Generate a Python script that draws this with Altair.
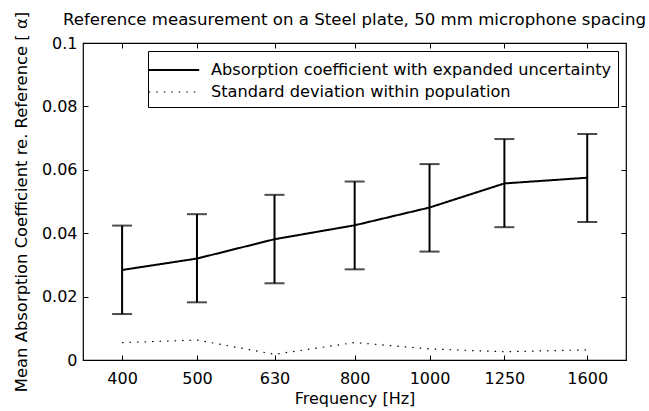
import altair as alt
import pandas as pd

freq = [400, 500, 630, 800, 1000, 1250, 1600]
mean_abs = [0.0284, 0.0320, 0.0381, 0.0425, 0.0481, 0.0557, 0.0575]
lower = [0.0145, 0.0182, 0.0242, 0.0286, 0.0342, 0.0419, 0.0435]
upper = [0.0424, 0.0460, 0.0521, 0.0563, 0.0618, 0.0697, 0.0713]
std_pop = [0.0055, 0.0063, 0.0018, 0.0055, 0.0035, 0.0026, 0.0032]
series_names = ["Absorption coefficient with expanded uncertainty",
                "Standard deviation within population"]
y_ticks = [0, 0.02, 0.04, 0.06, 0.08, 0.1]

FONT = "DejaVu Sans"

lines_df = pd.DataFrame({
    "freq": freq * 2,
    "value": mean_abs + std_pop,
    "series": [series_names[0]] * len(freq) + [series_names[1]] * len(freq),
})
err_df = pd.DataFrame({"freq": freq, "lower": lower, "upper": upper})

xscale = alt.Scale(type="log", domain=[356, 1796], nice=False)
yscale = alt.Scale(domain=[0, 0.1], nice=False, zero=False)

legend = alt.Legend(
    orient="top-right", offset=8, title=None,
    symbolType="M-2.1,0H2.1", symbolSize=576,
    labelFont=FONT, labelFontSize=16.2, labelColor="black",
    labelOffset=24, labelLimit=1000,
    strokeColor="black", fillColor="white", padding=6,
    rowPadding=0, symbolOffset=7,
)

lines = alt.Chart(lines_df).mark_line().encode(
    x=alt.X("freq:Q", scale=xscale,
            axis=alt.Axis(orient="bottom", values=freq, format="d", offset=-5,
                          tickSize=5, domain=False, grid=False,
                          labelPadding=10, title="Frequency [Hz]",
                          titlePadding=4)),
    y=alt.Y("value:Q", scale=yscale,
            axis=alt.Axis(orient="left", values=y_ticks, format="~g", offset=-5,
                          tickSize=5, domain=False, grid=False,
                          labelPadding=6,
                          title="Mean Absorption Coefficient re. Reference [ α]",
                          titleFontSize=16.4, titlePadding=12)),
    color=alt.Color("series:N", scale=alt.Scale(domain=series_names, range=["black", "black"]),
                    legend=legend),
    strokeDash=alt.StrokeDash("series:N", scale=alt.Scale(domain=series_names, range=[[1, 0], [1.5, 6]]),
                              legend=legend),
    strokeWidth=alt.StrokeWidth("series:N", scale=alt.Scale(domain=series_names, range=[2, 1.2]),
                                legend=legend),
)

rules = alt.Chart(err_df).mark_rule(color="black", strokeWidth=2).encode(
    x=alt.X("freq:Q", scale=xscale,
            axis=alt.Axis(orient="top", values=freq, offset=-5, tickSize=5,
                          labels=False, domain=False, grid=False, title=None)),
    y=alt.Y("lower:Q", scale=yscale,
            axis=alt.Axis(orient="right", values=y_ticks, offset=-5, tickSize=5,
                          labels=False, domain=False, grid=False, title=None)),
    y2="upper:Q",
)

caps_lo = alt.Chart(err_df).mark_tick(color="black", size=20, thickness=2, orient="horizontal").encode(
    x=alt.X("freq:Q", scale=xscale, axis=None),
    y=alt.Y("lower:Q", scale=yscale, axis=None),
)
caps_hi = alt.Chart(err_df).mark_tick(color="black", size=20, thickness=2, orient="horizontal").encode(
    x=alt.X("freq:Q", scale=xscale, axis=None),
    y=alt.Y("upper:Q", scale=yscale, axis=None),
)

chart = alt.layer(lines, rules, caps_lo, caps_hi).resolve_axis(
    x="independent", y="independent"
).properties(
    width=543, height=317,
    autosize=alt.AutoSizeParams(type="none"),
    padding={"left": 83, "top": 43, "right": 23, "bottom": 51},
    title=alt.Title("Reference measurement on a Steel plate, 50 mm microphone spacing",
                    font=FONT, fontSize=16.6, fontWeight="normal", color="black",
                    anchor="middle", offset=-17),
    background="white",
).configure_view(stroke="black", strokeWidth=1.2).configure_axis(
    labelFont=FONT, labelFontSize=16, labelColor="black",
    titleFont=FONT, titleFontSize=16, titleFontWeight="normal", titleColor="black",
    tickColor="black", tickWidth=1,
)

chart.save("out.html", embed_options={"renderer": "svg", "actions": False})
